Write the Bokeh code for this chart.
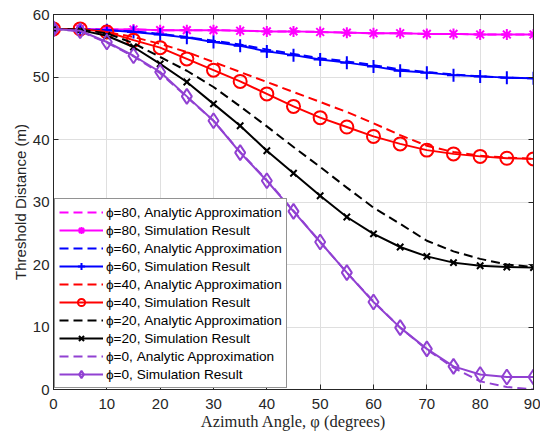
from bokeh.plotting import figure
from bokeh.models import Range1d, LinearAxis, Legend, LegendItem, FixedTicker
from bokeh.embed import file_html
from bokeh.resources import INLINE

angles = [0, 5, 10, 15, 20, 25, 30, 35, 40, 45, 50, 55, 60, 65, 70, 75, 80, 85, 90]

phi80_analytic = [57.7, 57.7, 57.6, 57.6, 57.5, 57.5, 57.5, 57.4, 57.3, 57.3, 57.2, 57.1, 57.0, 57.0, 56.9, 56.9, 56.8, 56.8, 56.8]
phi80_sim = [57.7, 57.7, 57.6, 57.6, 57.5, 57.5, 57.5, 57.4, 57.3, 57.3, 57.2, 57.1, 57.0, 57.0, 56.9, 56.9, 56.8, 56.8, 56.8]
phi60_analytic = [57.7, 57.6, 57.5, 57.3, 56.9, 56.4, 55.8, 55.2, 54.4, 53.7, 53.0, 52.5, 51.9, 51.2, 50.8, 50.4, 50.1, 49.9, 49.8]
phi60_sim = [57.7, 57.6, 57.5, 57.2, 56.8, 56.3, 55.6, 55.0, 54.1, 53.5, 52.8, 52.3, 51.7, 51.0, 50.7, 50.3, 50.1, 49.9, 49.8]
phi40_analytic = [57.7, 57.6, 57.2, 56.4, 55.3, 54.0, 52.4, 50.8, 49.2, 47.6, 46.0, 44.4, 42.6, 40.7, 39.0, 38.0, 37.4, 37.1, 36.9]
phi40_sim = [57.7, 57.7, 57.2, 55.9, 54.7, 52.9, 51.1, 49.3, 47.3, 45.3, 43.5, 42.0, 40.5, 39.3, 38.3, 37.7, 37.3, 37.0, 36.9]
phi20_analytic = [57.7, 57.6, 57.0, 55.4, 53.2, 51.0, 48.4, 45.3, 42.1, 38.8, 35.6, 32.3, 29.1, 26.5, 23.8, 22.1, 20.9, 20.0, 19.6]
phi20_sim = [57.7, 57.5, 56.6, 54.8, 52.1, 49.2, 45.7, 42.2, 38.2, 34.6, 31.0, 27.6, 24.9, 22.8, 21.3, 20.3, 19.8, 19.6, 19.5]
phi0_analytic = [57.7, 57.3, 55.5, 53.3, 50.6, 46.8, 43.0, 38.0, 33.5, 28.6, 23.6, 18.7, 14.1, 9.9, 6.4, 3.5, 1.3, 0.4, 0.0]
phi0_sim = [57.7, 57.4, 55.6, 53.4, 50.8, 46.9, 43.0, 37.9, 33.4, 28.5, 23.6, 18.7, 14.0, 9.9, 6.5, 3.7, 2.4, 2.0, 2.0]

x_ticks = [0, 10, 20, 30, 40, 50, 60, 70, 80, 90]
y_ticks = [0, 10, 20, 30, 40, 50, 60]

AX = "#262626"
GRID = "#dfdfdf"
FONT = "Liberation Sans"

p = figure(width=532, height=433, output_backend="svg", toolbar_location=None,
           x_range=Range1d(0, 90), y_range=Range1d(0, 60),
           min_border_left=45, min_border_right=7, min_border_top=14, min_border_bottom=44)
p.margin = (0, 0, 0, 8)
p.outline_line_color = AX
p.outline_line_width = 1
p.background_fill_color = "white"
p.border_fill_color = "white"

for ax in (p.xaxis[0], p.yaxis[0]):
    ax.major_tick_in = 5
    ax.major_tick_out = 0
    ax.minor_tick_in = 0
    ax.minor_tick_out = 0
    ax.axis_line_color = AX
    ax.major_tick_line_color = AX
    ax.major_label_text_color = AX
    ax.major_label_text_font = FONT
    ax.major_label_text_font_size = "15px"
    ax.axis_label_text_color = AX
    ax.axis_label_text_font_style = "normal"

p.xaxis[0].ticker = FixedTicker(ticks=x_ticks)
p.yaxis[0].ticker = FixedTicker(ticks=y_ticks)
p.xaxis[0].axis_label = "Azimuth Angle, φ (degrees)"
p.xaxis[0].axis_label_text_font = "Liberation Serif"
p.xaxis[0].axis_label_text_font_size = "16.5px"
p.xaxis[0].axis_label_standoff = 0
p.xaxis[0].major_label_standoff = 9
p.yaxis[0].axis_label = "Threshold Distance (m)"
p.yaxis[0].axis_label_text_font = FONT
p.yaxis[0].axis_label_text_font_size = "15px"
p.yaxis[0].axis_label_standoff = 1
p.yaxis[0].major_label_standoff = 4

top = LinearAxis(ticker=FixedTicker(ticks=x_ticks), major_tick_in=5, major_tick_out=0,
                 minor_tick_in=0, minor_tick_out=0,
                 major_label_overrides={t: "" for t in x_ticks},
                 major_label_standoff=0, axis_line_color=AX, major_tick_line_color=AX)
right = LinearAxis(ticker=FixedTicker(ticks=y_ticks), major_tick_in=5, major_tick_out=0,
                   minor_tick_in=0, minor_tick_out=0,
                   major_label_overrides={t: "" for t in y_ticks},
                   major_label_standoff=0, axis_line_color=AX, major_tick_line_color=AX)
p.add_layout(top, "above")
p.add_layout(right, "right")

p.xgrid.ticker = FixedTicker(ticks=x_ticks)
p.ygrid.ticker = FixedTicker(ticks=y_ticks)
p.xgrid.grid_line_color = GRID
p.ygrid.grid_line_color = GRID

series = [
    ("80", phi80_analytic, phi80_sim, "#ff00ff", "asterisk", 11, True),
    ("60", phi60_analytic, phi60_sim, "#0000ff", "cross", 13, True),
    ("40", phi40_analytic, phi40_sim, "#ff0000", "circle", 13, False),
    ("20", phi20_analytic, phi20_sim, "#000000", "x", 9, True),
    ("0", phi0_analytic, phi0_sim, "#9141d2", "diamond", 15, False),
]

items = []
for name, ana, sim, col, mk, sz, filled in series:
    r_a = p.line(angles, ana, line_color=col, line_width=2, line_dash="9 5")
    r_s = p.line(angles, sim, line_color=col, line_width=2)
    r_m = p.scatter(angles, sim, marker=mk, size=sz, line_color=col, line_width=2,
                    fill_color=col if filled else None)
    items.append(LegendItem(label="ϕ=" + name + ", Analytic Approximation", renderers=[r_a]))
    items.append(LegendItem(label="ϕ=" + name + ", Simulation Result", renderers=[r_s, r_m]))

legend = Legend(items=items, location="bottom_left")
legend.label_text_font = FONT
legend.label_text_font_size = "13.6px"
legend.label_text_color = "#000000"
legend.label_height = 18
legend.glyph_height = 18
legend.glyph_width = 44
legend.label_standoff = 3
legend.spacing = 0
legend.padding = 4
legend.margin = 1
legend.border_line_color = AX
legend.border_line_width = 1
legend.background_fill_color = "white"
legend.background_fill_alpha = 1
p.add_layout(legend, "center")

open("out.html", "w").write(file_html(p, INLINE))
